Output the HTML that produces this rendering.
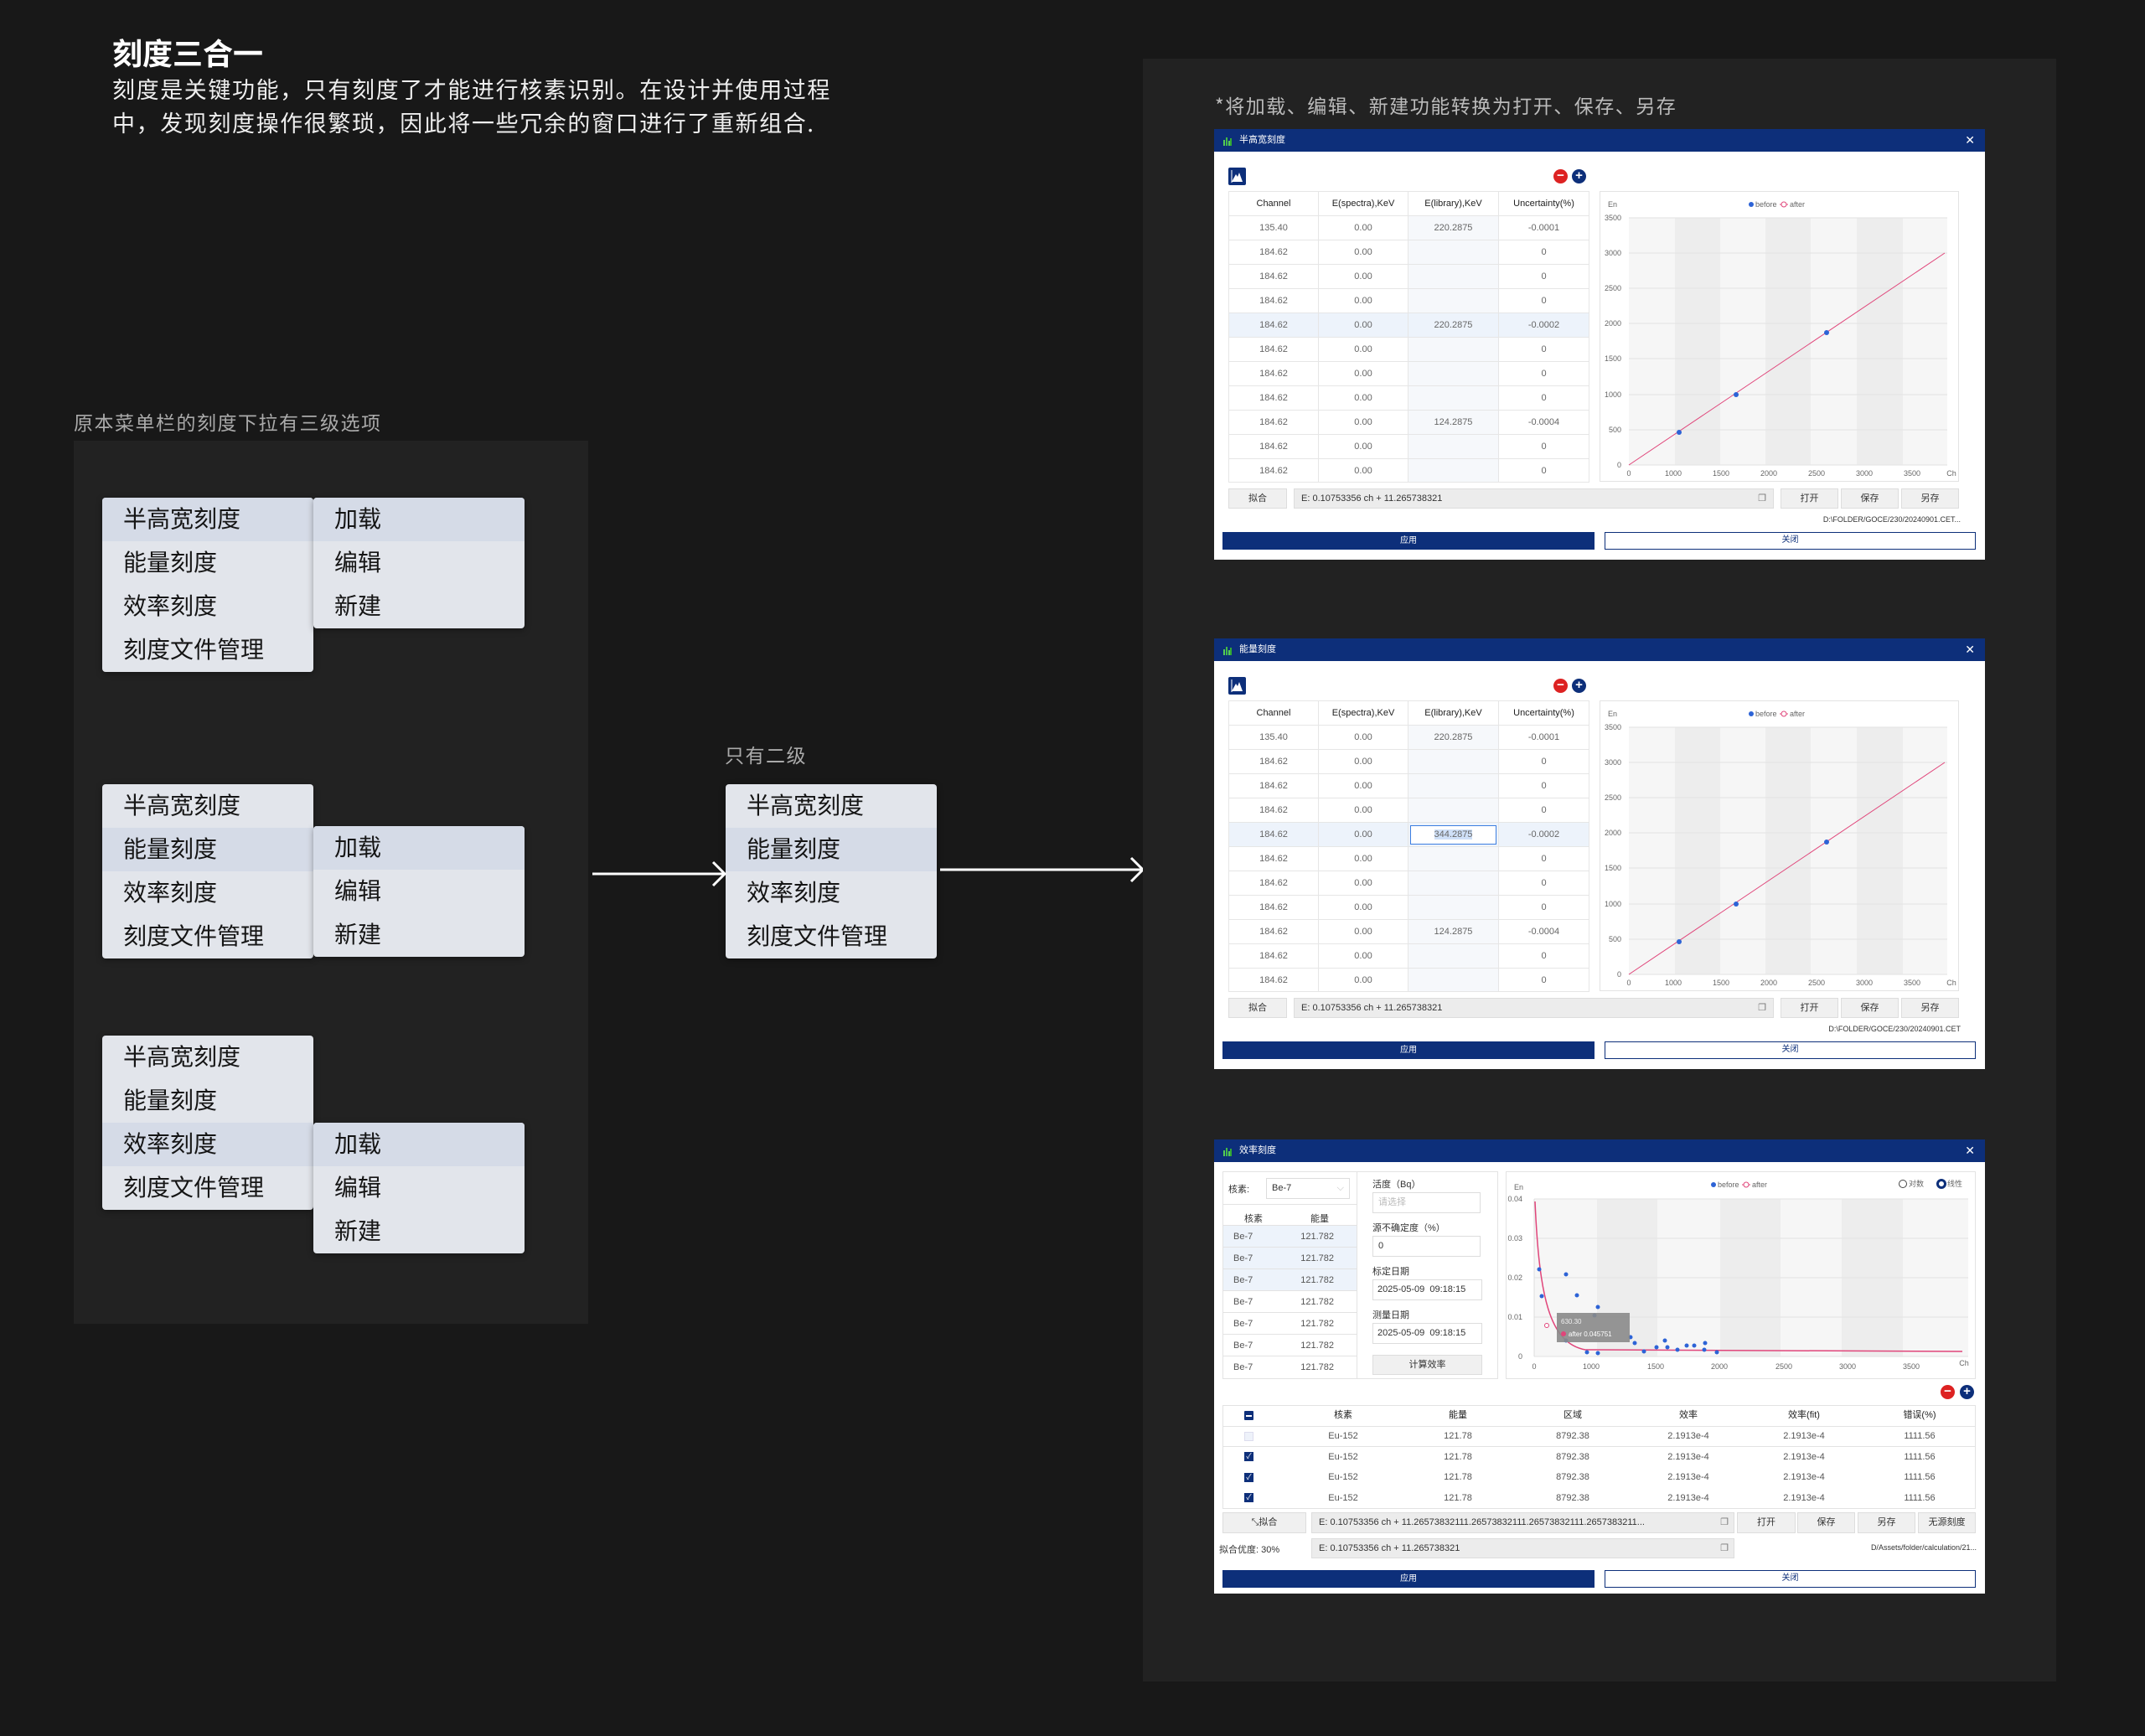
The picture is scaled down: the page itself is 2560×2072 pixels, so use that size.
<!DOCTYPE html>
<html><head><meta charset="utf-8"><style>
*{margin:0;padding:0;box-sizing:border-box}
body{width:2560px;height:2072px;background:#181818;position:relative;overflow:hidden;font-family:"Liberation Sans","Noto Sans CJK SC",sans-serif}
.a{position:absolute}
.menu{position:absolute;background:#e2e5eb;border-radius:4px;overflow:hidden;box-shadow:0 2px 8px rgba(0,0,0,.35)}
.menu div{height:52px;line-height:52px;font-size:28px;color:#151515;padding-left:25px}
.menu div.h{background:#d5dbe7}
.win{position:absolute;background:#fff;width:920px;font-size:11px;color:#555}
.tb{height:27px;background:#0d2f7a;color:#fff;font-size:11px;line-height:27px;padding-left:30px;position:relative}
.tb .ic{position:absolute;left:10px;top:8px;width:12px;height:12px}
.tb .x{position:absolute;right:12px;top:0;font-size:14px}
table.t{border-collapse:collapse;table-layout:fixed;position:absolute}
table.t td{border:1px solid #e6e6e6;text-align:center;font-size:11px;color:#666;padding:0}
table.t tr.hd td{color:#222;font-size:11px}
.c3{background:#f6f8fb}
tr.hl td{background:#edf3fb}
.btn{position:absolute;background:#f0f0f0;border:1px solid #ddd;text-align:center;font-size:11px;color:#333}
.inp{position:absolute;background:#ececec;border:1px solid #ddd;font-size:11px;color:#333;padding-left:8px}
.ap{position:absolute;background:#0d2f7a;color:#fff;text-align:center;font-size:10px}
.cl{position:absolute;border:1.5px solid #0d2f7a;color:#0d2f7a;text-align:center;font-size:10px;background:#fff}
.circ{position:absolute;width:17px;height:17px;border-radius:50%;color:#fff;text-align:center;line-height:16px;font-size:15px;font-weight:bold}
.tool{position:absolute;width:21px;height:21px;background:#0d2f7a;border-radius:2px}
.fi{position:absolute;border:1px solid #ddd;font-size:11px;color:#333;padding-left:6px;background:#fff;white-space:nowrap}
.lb{position:absolute;font-size:11px;color:#333}
</style></head><body>

<div class="a" style="left:134px;top:36px;font-size:36px;font-weight:bold;color:#fff;font-family:'Noto Sans CJK SC',sans-serif">刻度三合一</div>
<div class="a" style="left:134px;top:86px;font-size:27px;color:#eee;line-height:40px;width:1000px;letter-spacing:1.6px;font-family:'Noto Sans CJK SC',sans-serif">刻度是关键功能，只有刻度了才能进行核素识别。在设计并使用过程<br>中，发现刻度操作很繁琐，因此将一些冗余的窗口进行了重新组合.</div>

<div class="a" style="left:88px;top:486px;font-size:23px;color:#aaa;letter-spacing:1.5px;font-family:'Noto Sans CJK SC',sans-serif">原本菜单栏的刻度下拉有三级选项</div>
<div class="a" style="left:88px;top:526px;width:614px;height:1054px;background:#222"></div>

<div class="menu" style="left:122px;top:594px;width:252px;height:208px"><div class="h">半高宽刻度</div><div>能量刻度</div><div>效率刻度</div><div>刻度文件管理</div></div>
<div class="menu" style="left:374px;top:594px;width:252px;height:156px"><div class="h">加载</div><div>编辑</div><div>新建</div></div>

<div class="menu" style="left:122px;top:936px;width:252px;height:208px"><div>半高宽刻度</div><div class="h">能量刻度</div><div>效率刻度</div><div>刻度文件管理</div></div>
<div class="menu" style="left:374px;top:986px;width:252px;height:156px"><div class="h">加载</div><div>编辑</div><div>新建</div></div>

<div class="menu" style="left:122px;top:1236px;width:252px;height:208px"><div>半高宽刻度</div><div>能量刻度</div><div class="h">效率刻度</div><div>刻度文件管理</div></div>
<div class="menu" style="left:374px;top:1340px;width:252px;height:156px"><div class="h">加载</div><div>编辑</div><div>新建</div></div>

<div class="a" style="left:865px;top:883px;font-size:23px;color:#aaa;letter-spacing:1.5px;font-family:'Noto Sans CJK SC',sans-serif">只有二级</div>
<div class="menu" style="left:866px;top:936px;width:252px;height:208px"><div>半高宽刻度</div><div class="h">能量刻度</div><div>效率刻度</div><div>刻度文件管理</div></div>

<svg class="a" style="left:0;top:0" width="1400" height="1200">
<line x1="707" y1="1043" x2="864" y2="1043" stroke="#fff" stroke-width="3"/>
<polyline points="851,1029 865,1043 851,1057" fill="none" stroke="#fff" stroke-width="3"/>
<line x1="1122" y1="1038" x2="1364" y2="1038" stroke="#fff" stroke-width="3"/>
<polyline points="1350,1024 1364,1038 1350,1052" fill="none" stroke="#fff" stroke-width="3"/>
</svg>

<div class="a" style="left:1364px;top:70px;width:1090px;height:1937px;background:#222"></div>
<div class="a" style="left:1450px;top:108px;font-size:23px;color:#bbb;letter-spacing:1.5px;font-family:'Noto Sans CJK SC',sans-serif">*将加载、编辑、新建功能转换为打开、保存、另存</div>

<!-- WINDOW 1 -->
<div class="win" style="left:1449px;top:154px;height:514px">
<div class="tb"><svg class="ic" viewBox="0 0 12 12"><rect x="1" y="5" width="2" height="7" fill="#5c5"/><rect x="4" y="2" width="2" height="10" fill="#4b4"/><rect x="7" y="6" width="2" height="6" fill="#5c5"/><rect x="9" y="3" width="2" height="9" fill="#3a3"/></svg>半高宽刻度<span class="x">✕</span></div>
<div class="tool" style="left:17px;top:46px"><svg width="21" height="21"><path d="M4 17 L9 8 L11 11 L13 6 L17 17Z" fill="#fff"/><line x1="4" y1="3" x2="4" y2="18" stroke="#fff"/></svg></div>
<div class="circ" style="left:405px;top:48px;background:#d22">−</div>
<div class="circ" style="left:427px;top:48px;background:#0d2f7a">+</div>
<table class="t" style="left:17px;top:74px;width:430px">
<colgroup><col style="width:107px"><col style="width:107px"><col style="width:108px"><col style="width:108px"></colgroup>
<tr class="hd" style="height:29px"><td>Channel</td><td>E(spectra),KeV</td><td>E(library),KeV</td><td>Uncertainty(%)</td></tr>
<tr style="height:29px"><td>135.40</td><td>0.00</td><td class="c3">220.2875</td><td>-0.0001</td></tr>
<tr style="height:29px"><td>184.62</td><td>0.00</td><td class="c3"></td><td>0</td></tr>
<tr style="height:29px"><td>184.62</td><td>0.00</td><td class="c3"></td><td>0</td></tr>
<tr style="height:29px"><td>184.62</td><td>0.00</td><td class="c3"></td><td>0</td></tr>
<tr class="hl" style="height:29px"><td>184.62</td><td>0.00</td><td>220.2875</td><td>-0.0002</td></tr>
<tr style="height:29px"><td>184.62</td><td>0.00</td><td class="c3"></td><td>0</td></tr>
<tr style="height:29px"><td>184.62</td><td>0.00</td><td class="c3"></td><td>0</td></tr>
<tr style="height:29px"><td>184.62</td><td>0.00</td><td class="c3"></td><td>0</td></tr>
<tr style="height:29px"><td>184.62</td><td>0.00</td><td class="c3">124.2875</td><td>-0.0004</td></tr>
<tr style="height:29px"><td>184.62</td><td>0.00</td><td class="c3"></td><td>0</td></tr>
<tr style="height:28px"><td>184.62</td><td>0.00</td><td class="c3"></td><td>0</td></tr>
</table>
<svg class="a" style="left:460px;top:74px" width="429" height="347" font-family="Liberation Sans" font-size="9" fill="#666">
<rect x="0.5" y="0.5" width="428" height="346" fill="#fff" stroke="#e3e3e3"/>
<rect x="35" y="32" width="380" height="295" fill="#f6f6f6"/>
<rect x="90" y="32" width="54" height="295" fill="#ededed"/><rect x="198" y="32" width="54" height="295" fill="#ededed"/><rect x="307" y="32" width="55" height="295" fill="#ededed"/>
<g stroke="#e2e2e2"><line x1="35" y1="32" x2="415" y2="32"/><line x1="35" y1="74" x2="415" y2="74"/><line x1="35" y1="116" x2="415" y2="116"/><line x1="35" y1="158" x2="415" y2="158"/><line x1="35" y1="200" x2="415" y2="200"/><line x1="35" y1="243" x2="415" y2="243"/><line x1="35" y1="285" x2="415" y2="285"/><line x1="35" y1="327" x2="415" y2="327"/></g>
<g text-anchor="end"><text x="26" y="35">3500</text><text x="26" y="77">3000</text><text x="26" y="119">2500</text><text x="26" y="161">2000</text><text x="26" y="203">1500</text><text x="26" y="246">1000</text><text x="26" y="288">500</text><text x="26" y="330">0</text></g>
<text x="10" y="19">En</text>
<g text-anchor="middle"><text x="35" y="340">0</text><text x="88" y="340">1000</text><text x="145" y="340">1500</text><text x="202" y="340">2000</text><text x="259" y="340">2500</text><text x="316" y="340">3000</text><text x="373" y="340">3500</text><text x="420" y="340">Ch</text></g>
<circle cx="181" cy="16" r="3" fill="#2d63d6"/><text x="186" y="19">before</text>
<line x1="215" y1="16" x2="225" y2="16" stroke="#e0457a"/><circle cx="220" cy="16" r="3" fill="#fff" stroke="#e0457a"/><text x="227" y="19">after</text>
<line x1="35" y1="327" x2="412" y2="74" stroke="#e0457a" stroke-width="1"/>
<circle cx="95" cy="288" r="3" fill="#2d63d6"/><circle cx="163" cy="243" r="3" fill="#2d63d6"/><circle cx="271" cy="169" r="3" fill="#2d63d6"/>
</svg>
<div class="btn" style="left:17px;top:429px;width:70px;height:24px;line-height:22px">拟合</div>
<div class="inp" style="left:95px;top:429px;width:573px;height:24px;line-height:22px">E: 0.10753356 ch + 11.265738321<span style="position:absolute;right:8px;color:#777">❐</span></div>
<div class="btn" style="left:676px;top:429px;width:69px;height:24px;line-height:22px">打开</div>
<div class="btn" style="left:748px;top:429px;width:69px;height:24px;line-height:22px">保存</div>
<div class="btn" style="left:820px;top:429px;width:69px;height:24px;line-height:22px">另存</div>
<div class="lb" style="right:29px;top:461px;font-size:9px">D:\FOLDER/GOCE/230/20240901.CET...</div>
<div class="ap" style="left:10px;top:481px;width:444px;height:21px;line-height:21px">应用</div>
<div class="cl" style="left:466px;top:481px;width:443px;height:21px;line-height:18px">关闭</div>
</div>

<!-- WINDOW 2 -->
<div class="win" style="left:1449px;top:762px;height:514px">
<div class="tb"><svg class="ic" viewBox="0 0 12 12"><rect x="1" y="5" width="2" height="7" fill="#5c5"/><rect x="4" y="2" width="2" height="10" fill="#4b4"/><rect x="7" y="6" width="2" height="6" fill="#5c5"/><rect x="9" y="3" width="2" height="9" fill="#3a3"/></svg>能量刻度<span class="x">✕</span></div>
<div class="tool" style="left:17px;top:46px"><svg width="21" height="21"><path d="M4 17 L9 8 L11 11 L13 6 L17 17Z" fill="#fff"/><line x1="4" y1="3" x2="4" y2="18" stroke="#fff"/></svg></div>
<div class="circ" style="left:405px;top:48px;background:#d22">−</div>
<div class="circ" style="left:427px;top:48px;background:#0d2f7a">+</div>
<table class="t" style="left:17px;top:74px;width:430px">
<colgroup><col style="width:107px"><col style="width:107px"><col style="width:108px"><col style="width:108px"></colgroup>
<tr class="hd" style="height:29px"><td>Channel</td><td>E(spectra),KeV</td><td>E(library),KeV</td><td>Uncertainty(%)</td></tr>
<tr style="height:29px"><td>135.40</td><td>0.00</td><td class="c3">220.2875</td><td>-0.0001</td></tr>
<tr style="height:29px"><td>184.62</td><td>0.00</td><td class="c3"></td><td>0</td></tr>
<tr style="height:29px"><td>184.62</td><td>0.00</td><td class="c3"></td><td>0</td></tr>
<tr style="height:29px"><td>184.62</td><td>0.00</td><td class="c3"></td><td>0</td></tr>
<tr class="hl" style="height:29px"><td>184.62</td><td>0.00</td><td style="padding:2px"><div style="border:1px solid #3b7de0;background:#fff;height:23px;line-height:21px"><span style="background:#cfe0f7">344.2875</span></div></td><td>-0.0002</td></tr>
<tr style="height:29px"><td>184.62</td><td>0.00</td><td class="c3"></td><td>0</td></tr>
<tr style="height:29px"><td>184.62</td><td>0.00</td><td class="c3"></td><td>0</td></tr>
<tr style="height:29px"><td>184.62</td><td>0.00</td><td class="c3"></td><td>0</td></tr>
<tr style="height:29px"><td>184.62</td><td>0.00</td><td class="c3">124.2875</td><td>-0.0004</td></tr>
<tr style="height:29px"><td>184.62</td><td>0.00</td><td class="c3"></td><td>0</td></tr>
<tr style="height:28px"><td>184.62</td><td>0.00</td><td class="c3"></td><td>0</td></tr>
</table>
<svg class="a" style="left:460px;top:74px" width="429" height="347" font-family="Liberation Sans" font-size="9" fill="#666">
<rect x="0.5" y="0.5" width="428" height="346" fill="#fff" stroke="#e3e3e3"/>
<rect x="35" y="32" width="380" height="295" fill="#f6f6f6"/>
<rect x="90" y="32" width="54" height="295" fill="#ededed"/><rect x="198" y="32" width="54" height="295" fill="#ededed"/><rect x="307" y="32" width="55" height="295" fill="#ededed"/>
<g stroke="#e2e2e2"><line x1="35" y1="32" x2="415" y2="32"/><line x1="35" y1="74" x2="415" y2="74"/><line x1="35" y1="116" x2="415" y2="116"/><line x1="35" y1="158" x2="415" y2="158"/><line x1="35" y1="200" x2="415" y2="200"/><line x1="35" y1="243" x2="415" y2="243"/><line x1="35" y1="285" x2="415" y2="285"/><line x1="35" y1="327" x2="415" y2="327"/></g>
<g text-anchor="end"><text x="26" y="35">3500</text><text x="26" y="77">3000</text><text x="26" y="119">2500</text><text x="26" y="161">2000</text><text x="26" y="203">1500</text><text x="26" y="246">1000</text><text x="26" y="288">500</text><text x="26" y="330">0</text></g>
<text x="10" y="19">En</text>
<g text-anchor="middle"><text x="35" y="340">0</text><text x="88" y="340">1000</text><text x="145" y="340">1500</text><text x="202" y="340">2000</text><text x="259" y="340">2500</text><text x="316" y="340">3000</text><text x="373" y="340">3500</text><text x="420" y="340">Ch</text></g>
<circle cx="181" cy="16" r="3" fill="#2d63d6"/><text x="186" y="19">before</text>
<line x1="215" y1="16" x2="225" y2="16" stroke="#e0457a"/><circle cx="220" cy="16" r="3" fill="#fff" stroke="#e0457a"/><text x="227" y="19">after</text>
<line x1="35" y1="327" x2="412" y2="74" stroke="#e0457a" stroke-width="1"/>
<circle cx="95" cy="288" r="3" fill="#2d63d6"/><circle cx="163" cy="243" r="3" fill="#2d63d6"/><circle cx="271" cy="169" r="3" fill="#2d63d6"/>
</svg>
<div class="btn" style="left:17px;top:429px;width:70px;height:24px;line-height:22px">拟合</div>
<div class="inp" style="left:95px;top:429px;width:573px;height:24px;line-height:22px">E: 0.10753356 ch + 11.265738321<span style="position:absolute;right:8px;color:#777">❐</span></div>
<div class="btn" style="left:676px;top:429px;width:69px;height:24px;line-height:22px">打开</div>
<div class="btn" style="left:748px;top:429px;width:69px;height:24px;line-height:22px">保存</div>
<div class="btn" style="left:820px;top:429px;width:69px;height:24px;line-height:22px">另存</div>
<div class="lb" style="right:29px;top:461px;font-size:9px">D:\FOLDER/GOCE/230/20240901.CET</div>
<div class="ap" style="left:10px;top:481px;width:444px;height:21px;line-height:21px">应用</div>
<div class="cl" style="left:466px;top:481px;width:443px;height:21px;line-height:18px">关闭</div>
</div>

<!-- WINDOW 3 -->
<div class="win" style="left:1449px;top:1360px;height:542px">
<div class="tb"><svg class="ic" viewBox="0 0 12 12"><rect x="1" y="5" width="2" height="7" fill="#5c5"/><rect x="4" y="2" width="2" height="10" fill="#4b4"/><rect x="7" y="6" width="2" height="6" fill="#5c5"/><rect x="9" y="3" width="2" height="9" fill="#3a3"/></svg>效率刻度<span class="x">✕</span></div>
<div class="a" style="left:10px;top:38px;width:329px;height:248px;border:1px solid #e3e3e3"></div>
<div class="a" style="left:170px;top:38px;width:1px;height:248px;background:#e3e3e3"></div>
<div class="lb" style="left:17px;top:51px">核素:</div>
<div class="fi" style="left:62px;top:46px;width:100px;height:25px;line-height:23px">Be-7<span style="position:absolute;right:6px;color:#bbb">⌵</span></div>
<div class="a" style="left:10px;top:77px;width:160px;height:1px;background:#e3e3e3"></div>
<div class="lb" style="left:36px;top:86px">核素</div><div class="lb" style="left:115px;top:86px">能量</div>
<div class="a" style="left:11px;top:102px;width:159px;height:78px;background:#edf3fb"></div>
<div class="a" style="left:10px;top:102px;width:160px;font-size:11px;color:#555;line-height:26px">
<div style="border-top:1px solid #e3e3e3;height:26px"><span style="margin-left:13px">Be-7</span><span style="margin-left:57px">121.782</span></div>
<div style="border-top:1px solid #e3e3e3;height:26px"><span style="margin-left:13px">Be-7</span><span style="margin-left:57px">121.782</span></div>
<div style="border-top:1px solid #e3e3e3;height:26px"><span style="margin-left:13px">Be-7</span><span style="margin-left:57px">121.782</span></div>
<div style="border-top:1px solid #e3e3e3;height:26px"><span style="margin-left:13px">Be-7</span><span style="margin-left:57px">121.782</span></div>
<div style="border-top:1px solid #e3e3e3;height:26px"><span style="margin-left:13px">Be-7</span><span style="margin-left:57px">121.782</span></div>
<div style="border-top:1px solid #e3e3e3;height:26px"><span style="margin-left:13px">Be-7</span><span style="margin-left:57px">121.782</span></div>
<div style="border-top:1px solid #e3e3e3;height:26px"><span style="margin-left:13px">Be-7</span><span style="margin-left:57px">121.782</span></div>
</div>
<div class="lb" style="left:189px;top:45px">活度（Bq）</div>
<div class="fi" style="left:189px;top:63px;width:129px;height:25px;line-height:23px;color:#bbb">请选择</div>
<div class="lb" style="left:189px;top:97px">源不确定度（%）</div>
<div class="fi" style="left:189px;top:115px;width:129px;height:25px;line-height:23px">0</div>
<div class="lb" style="left:189px;top:149px">标定日期</div>
<div class="fi" style="left:189px;top:167px;width:131px;height:25px;line-height:23px;padding-left:5px">2025-05-09&nbsp; 09:18:15</div>
<div class="lb" style="left:189px;top:201px">测量日期</div>
<div class="fi" style="left:189px;top:219px;width:131px;height:25px;line-height:23px;padding-left:5px">2025-05-09&nbsp; 09:18:15</div>
<div class="btn" style="left:189px;top:257px;width:131px;height:24px;line-height:22px">计算效率</div>
<svg class="a" style="left:348px;top:38px" width="561" height="248" font-family="Liberation Sans" font-size="9" fill="#666">
<rect x="0.5" y="0.5" width="560" height="247" fill="#fff" stroke="#e3e3e3"/>
<rect x="34" y="33" width="518" height="188" fill="#f6f6f6"/>
<rect x="109" y="33" width="72" height="188" fill="#ededed"/><rect x="256" y="33" width="72" height="188" fill="#ededed"/><rect x="401" y="33" width="73" height="188" fill="#ededed"/>
<g stroke="#e2e2e2"><line x1="34" y1="33" x2="552" y2="33"/><line x1="34" y1="80" x2="552" y2="80"/><line x1="34" y1="127" x2="552" y2="127"/><line x1="34" y1="174" x2="552" y2="174"/><line x1="34" y1="221" x2="552" y2="221"/></g>
<g text-anchor="end"><text x="20" y="36">0.04</text><text x="20" y="83">0.03</text><text x="20" y="130">0.02</text><text x="20" y="177">0.01</text><text x="20" y="224">0</text></g>
<text x="10" y="22">En</text>
<g text-anchor="middle"><text x="34" y="236">0</text><text x="102" y="236">1000</text><text x="179" y="236">1500</text><text x="255" y="236">2000</text><text x="332" y="236">2500</text><text x="408" y="236">3000</text><text x="484" y="236">3500</text><text x="547" y="232">Ch</text></g>
<circle cx="248" cy="16" r="3" fill="#2d63d6"/><text x="253" y="19">before</text>
<line x1="282" y1="16" x2="292" y2="16" stroke="#e0457a"/><circle cx="287" cy="16" r="3" fill="#fff" stroke="#e0457a"/><text x="294" y="19">after</text>
<circle cx="474" cy="15" r="4.5" fill="#fff" stroke="#444"/><text x="481" y="18" font-family="Noto Sans CJK SC">对数</text>
<circle cx="520" cy="15" r="4.5" fill="#fff" stroke="#0d2f7a" stroke-width="3"/><text x="527" y="18" font-family="Noto Sans CJK SC">线性</text>
<line x1="34" y1="33" x2="34" y2="221" stroke="#ddd"/>
<path d="M35,36 C40,150 52,205 95,213 L545,215" fill="none" stroke="#e0457a" stroke-width="1.5"/>
<g fill="#2d63d6"><circle cx="40" cy="117" r="2.5"/><circle cx="43" cy="149" r="2.5"/><circle cx="72" cy="123" r="2.5"/><circle cx="85" cy="148" r="2.5"/><circle cx="110" cy="162" r="2.5"/><circle cx="106" cy="172" r="2.5"/><circle cx="72" cy="202" r="2.5"/><circle cx="97" cy="216" r="2.5"/><circle cx="110" cy="217" r="2.5"/><circle cx="149" cy="198" r="2.5"/><circle cx="154" cy="205" r="2.5"/><circle cx="165" cy="215" r="2.5"/><circle cx="180" cy="210" r="2.5"/><circle cx="190" cy="202" r="2.5"/><circle cx="193" cy="210" r="2.5"/><circle cx="205" cy="213" r="2.5"/><circle cx="216" cy="208" r="2.5"/><circle cx="225" cy="208" r="2.5"/><circle cx="238" cy="205" r="2.5"/><circle cx="237" cy="213" r="2.5"/><circle cx="252" cy="216" r="2.5"/></g>
<circle cx="49" cy="184" r="2.5" fill="#fff" stroke="#e0457a"/>
<rect x="61" y="169" width="87" height="35" fill="#8a8a8a" opacity="0.9"/>
<text x="66" y="182" fill="#eee" font-size="8">630.30</text>
<circle cx="69" cy="194" r="3" fill="#e0457a"/><text x="75" y="197" fill="#fff" font-size="8">after  0.045751</text>
</svg>
<div class="circ" style="left:867px;top:293px;background:#d22">−</div>
<div class="circ" style="left:890px;top:293px;background:#0d2f7a">+</div>
<div class="a" style="left:10px;top:317px;width:899px;height:124px;border:1px solid #e3e3e3"></div>
<div class="a" style="left:10px;top:342px;width:899px;height:1px;background:#e3e3e3"></div>
<div class="a" style="left:10px;top:366px;width:899px;height:1px;background:#e3e3e3"></div>
<div class="a" style="left:36px;top:324px;width:11px;height:11px;background:#0d2f7a;border-radius:1px"><div style="margin:5px 2px 0;height:1.5px;background:#fff"></div></div>
<div class="a" style="left:36px;top:349px;width:11px;height:11px;background:#eef2fa;border:1px solid #dde"></div>
<div class="a" style="left:36px;top:373px;width:11px;height:11px;background:#0d2f7a;color:#fff;font-size:9px;line-height:11px;text-align:center">✓</div>
<div class="a" style="left:36px;top:398px;width:11px;height:11px;background:#0d2f7a;color:#fff;font-size:9px;line-height:11px;text-align:center">✓</div>
<div class="a" style="left:36px;top:422px;width:11px;height:11px;background:#0d2f7a;color:#fff;font-size:9px;line-height:11px;text-align:center">✓</div>
<div class="a" style="left:0;top:317px;width:920px;font-size:11px;color:#555">
<div style="height:25px;line-height:25px;position:relative;color:#222"><span class="a" style="left:124px;width:60px;text-align:center">核素</span><span class="a" style="left:261px;width:60px;text-align:center">能量</span><span class="a" style="left:398px;width:60px;text-align:center">区域</span><span class="a" style="left:536px;width:60px;text-align:center">效率</span><span class="a" style="left:674px;width:60px;text-align:center">效率(fit)</span><span class="a" style="left:812px;width:60px;text-align:center">错误(%)</span></div>
<div style="height:24.5px;line-height:24.5px;position:relative"><span class="a" style="left:124px;width:60px;text-align:center">Eu-152</span><span class="a" style="left:261px;width:60px;text-align:center">121.78</span><span class="a" style="left:398px;width:60px;text-align:center">8792.38</span><span class="a" style="left:536px;width:60px;text-align:center">2.1913e-4</span><span class="a" style="left:674px;width:60px;text-align:center">2.1913e-4</span><span class="a" style="left:812px;width:60px;text-align:center">1111.56</span></div>
<div style="height:24.5px;line-height:24.5px;position:relative"><span class="a" style="left:124px;width:60px;text-align:center">Eu-152</span><span class="a" style="left:261px;width:60px;text-align:center">121.78</span><span class="a" style="left:398px;width:60px;text-align:center">8792.38</span><span class="a" style="left:536px;width:60px;text-align:center">2.1913e-4</span><span class="a" style="left:674px;width:60px;text-align:center">2.1913e-4</span><span class="a" style="left:812px;width:60px;text-align:center">1111.56</span></div>
<div style="height:24.5px;line-height:24.5px;position:relative"><span class="a" style="left:124px;width:60px;text-align:center">Eu-152</span><span class="a" style="left:261px;width:60px;text-align:center">121.78</span><span class="a" style="left:398px;width:60px;text-align:center">8792.38</span><span class="a" style="left:536px;width:60px;text-align:center">2.1913e-4</span><span class="a" style="left:674px;width:60px;text-align:center">2.1913e-4</span><span class="a" style="left:812px;width:60px;text-align:center">1111.56</span></div>
<div style="height:24.5px;line-height:24.5px;position:relative"><span class="a" style="left:124px;width:60px;text-align:center">Eu-152</span><span class="a" style="left:261px;width:60px;text-align:center">121.78</span><span class="a" style="left:398px;width:60px;text-align:center">8792.38</span><span class="a" style="left:536px;width:60px;text-align:center">2.1913e-4</span><span class="a" style="left:674px;width:60px;text-align:center">2.1913e-4</span><span class="a" style="left:812px;width:60px;text-align:center">1111.56</span></div>
</div>
<div class="btn" style="left:10px;top:445px;width:100px;height:25px;line-height:23px">⤡拟合</div>
<div class="inp" style="left:116px;top:445px;width:505px;height:25px;line-height:23px;white-space:nowrap;overflow:hidden">E: 0.10753356 ch + 11.26573832111.26573832111.26573832111.2657383211...<span style="position:absolute;right:6px;color:#777;background:#ececec">❐</span></div>
<div class="btn" style="left:624px;top:445px;width:70px;height:25px;line-height:23px">打开</div>
<div class="btn" style="left:696px;top:445px;width:69px;height:25px;line-height:23px">保存</div>
<div class="btn" style="left:768px;top:445px;width:69px;height:25px;line-height:23px">另存</div>
<div class="btn" style="left:840px;top:445px;width:69px;height:25px;line-height:23px">无源刻度</div>
<div class="lb" style="left:6px;top:481px">拟合优度: 30%</div>
<div class="inp" style="left:116px;top:476px;width:505px;height:24px;line-height:22px">E: 0.10753356 ch + 11.265738321<span style="position:absolute;right:6px;color:#777">❐</span></div>
<div class="lb" style="right:10px;top:482px;font-size:9px">D/Assets/folder/calculation/21...</div>
<div class="ap" style="left:10px;top:514px;width:444px;height:21px;line-height:21px">应用</div>
<div class="cl" style="left:466px;top:514px;width:443px;height:21px;line-height:18px">关闭</div>
</div>

</body></html>
